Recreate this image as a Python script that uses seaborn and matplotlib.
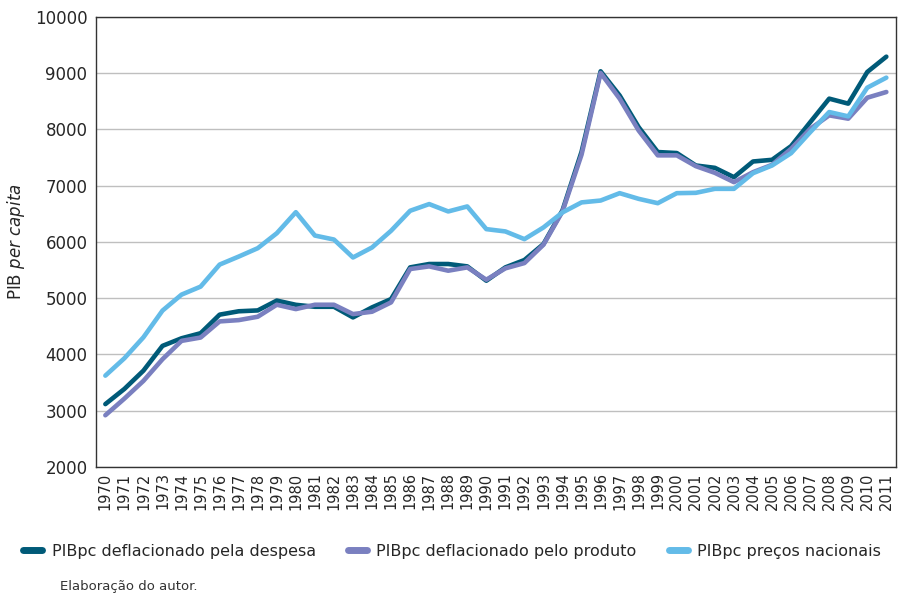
import numpy as np
import pandas as pd
import matplotlib
matplotlib.use("Agg")
import matplotlib.pyplot as plt
import seaborn as sns
from matplotlib.lines import Line2D

years = list(range(1970, 2012))

despesa = [3115, 3385, 3710, 4150, 4285, 4375, 4705, 4765, 4780, 4955,
           4880, 4845, 4845, 4656, 4834, 4982, 5545, 5605, 5605, 5563,
           5308, 5545, 5676, 5960, 6560, 7600, 9030, 8600, 8036, 7595,
           7577, 7356, 7314, 7148, 7427, 7457, 7700, 8124, 8544, 8455,
           9018, 9290]

produto = [2917, 3213, 3528, 3913, 4239, 4298, 4585, 4608, 4668, 4881,
           4804, 4881, 4881, 4715, 4757, 4923, 5516, 5563, 5486, 5545,
           5326, 5528, 5622, 5948, 6540, 7550, 9000, 8544, 7976, 7536,
           7536, 7344, 7225, 7060, 7237, 7368, 7652, 8006, 8247, 8188,
           8561, 8662]

precos = [3621, 3930, 4303, 4777, 5061, 5203, 5595, 5737, 5886, 6152,
          6526, 6111, 6040, 5721, 5899, 6196, 6551, 6670, 6539, 6628,
          6225, 6184, 6047, 6255, 6522, 6700, 6733, 6864, 6763, 6686,
          6864, 6870, 6941, 6941, 7219, 7356, 7575, 7947, 8306, 8229,
          8739, 8917]

series_names = ["PIBpc deflacionado pela despesa",
                "PIBpc deflacionado pelo produto",
                "PIBpc preços nacionais"]
colors = ["#005a78", "#7a80c0", "#63bbe8"]

df = pd.DataFrame({
    "ano": years * 3,
    "valor": despesa + produto + precos,
    "serie": [series_names[0]] * 42 + [series_names[1]] * 42 + [series_names[2]] * 42,
})

sns.set_style("white")
plt.rcParams["font.family"] = ["DejaVu Sans"]
plt.rcParams["mathtext.fontset"] = "dejavusans"

fig = plt.figure(figsize=(9.04, 5.97), dpi=100)
ax = fig.add_axes([0.106, 0.218, 0.885, 0.754])

sns.lineplot(data=df, x="ano", y="valor", hue="serie", hue_order=series_names,
             palette=colors, linewidth=3.3, ax=ax, legend=False,
             solid_capstyle="round", solid_joinstyle="round")

ax.set_xlim(1969.5, 2011.5)
ax.set_ylim(2000, 10000)
ax.set_yticks(range(2000, 10001, 1000))
ax.set_xticks(years)
ax.set_xticklabels([str(y) for y in years], rotation=90, fontsize=10.5)
ax.tick_params(axis="y", labelsize=12, length=0, pad=6)
ax.tick_params(axis="x", length=0, pad=4)
ax.yaxis.grid(True, color="#bfbfbf", linewidth=1)
ax.set_axisbelow(True)
for s in ax.spines.values():
    s.set_color("#333333")
    s.set_linewidth(1)
ax.set_xlabel("")
ax.set_ylabel(r"PIB $\mathit{per\ capita}$", fontsize=12, labelpad=6)

handles = [Line2D([0], [0], color=c, lw=5, solid_capstyle="round") for c in colors]
fig.legend(handles, series_names, loc="center", bbox_to_anchor=(0.5, 0.077),
           ncol=3, frameon=False, fontsize=11.5, handlelength=1.2,
           columnspacing=2.0, handletextpad=0.6)

fig.text(0.066, 0.012, "Elaboração do autor.", fontsize=9.5, color="#333333")

fig.savefig("out.png", dpi=100)
